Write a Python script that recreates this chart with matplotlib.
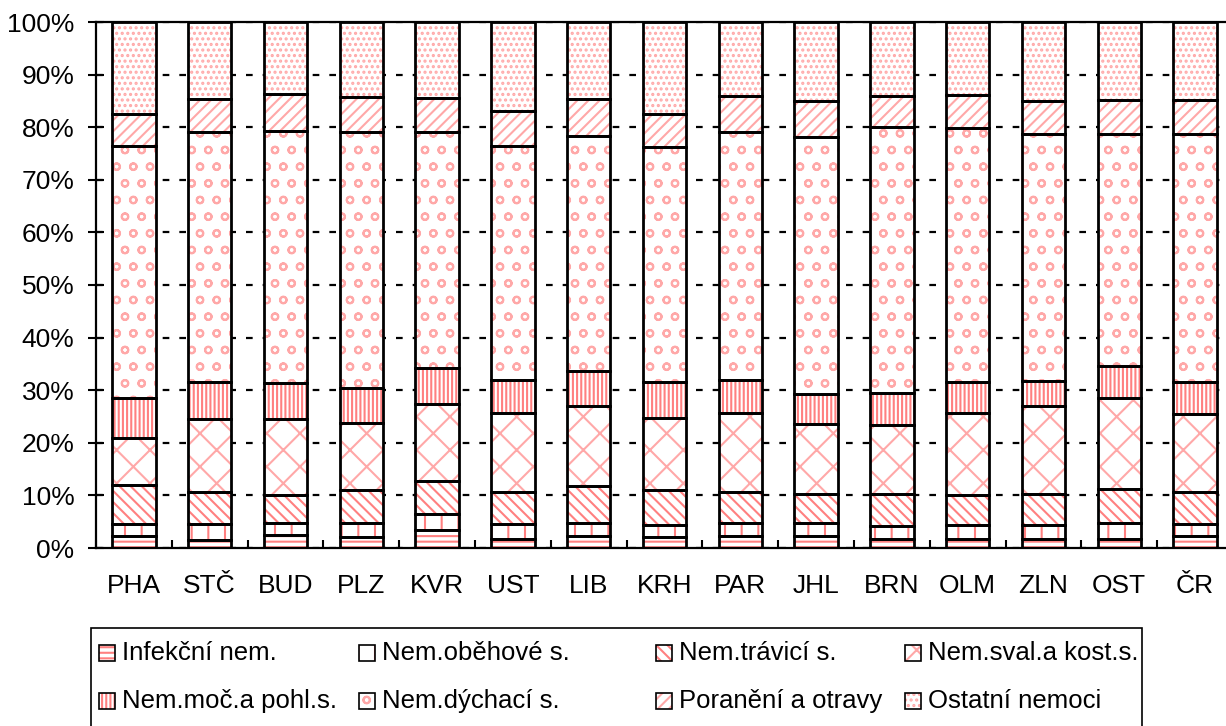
import matplotlib
matplotlib.use('Agg')
import matplotlib.pyplot as plt
from matplotlib.patches import Rectangle
import numpy as np

plt.rcParams['font.family'] = ['Liberation Sans', 'DejaVu Sans']
plt.rcParams['hatch.linewidth'] = 1.5

# data (% share of sick-leave cases by cause)
regions = ['PHA', 'STČ', 'BUD', 'PLZ', 'KVR', 'UST', 'LIB', 'KRH',
           'PAR', 'JHL', 'BRN', 'OLM', 'ZLN', 'OST', 'ČR']
series_names = ['Infekční nem.', 'Nem.oběhové s.', 'Nem.trávicí s.',
                'Nem.sval.a kost.s.', 'Nem.moč.a pohl.s.', 'Nem.dýchací s.',
                'Poranění a otravy', 'Ostatní nemoci']
infekcni = [2.3, 1.6, 2.5, 2.0, 3.4, 1.8, 2.3, 2.0, 2.3, 2.3, 1.8, 1.7, 1.8, 1.8, 2.2]
obehove = [2.3, 2.9, 2.2, 2.7, 3.1, 2.8, 2.4, 2.4, 2.4, 2.5, 2.4, 2.7, 2.6, 2.9, 2.4]
travici = [7.4, 6.2, 5.4, 6.3, 6.3, 6.1, 7.0, 6.6, 6.0, 5.5, 6.1, 5.7, 5.9, 6.6, 6.1]
sval = [8.9, 13.9, 14.4, 12.7, 14.6, 15.0, 15.3, 13.8, 15.0, 13.3, 13.1, 15.6, 16.7, 17.3, 14.8]
moc = [7.6, 6.9, 6.8, 6.8, 6.8, 6.2, 6.7, 6.7, 6.2, 5.7, 6.1, 5.8, 4.8, 6.0, 6.1]
dychaci = [48.0, 47.5, 48.0, 48.6, 44.8, 44.6, 44.6, 44.7, 47.1, 48.9, 50.5, 48.3, 47.0, 44.1, 47.1]
poraneni = [6.0, 6.4, 7.0, 6.7, 6.5, 6.6, 7.1, 6.4, 6.9, 6.8, 6.0, 6.3, 6.2, 6.5, 6.5]
ostatni = [17.5, 14.6, 13.7, 14.2, 14.5, 16.9, 14.6, 17.4, 14.1, 15.0, 14.0, 13.9, 15.0, 14.8, 14.8]

values = [infekcni, obehove, travici, sval, moc, dychaci, poraneni, ostatni]
hatches = ['---', '|', '\\\\\\', 'x', '||||', 'o', '///', '...']
PINK = '#FF8080'
LIGHT = '#FFA8A8'
hatch_colors = [PINK, PINK, PINK, LIGHT, PINK, LIGHT, LIGHT, LIGHT]

W, H = 1226, 726
fig = plt.figure(figsize=(W / 100, H / 100), dpi=100)
ax = fig.add_axes([96 / W, 1 - 548 / H, 1137 / W, 526 / H])

# 100% stacked bars
data = np.array(values, dtype=float)
data = data / data.sum(axis=0) * 100
x = np.arange(len(regions))
bottom = np.zeros(len(regions))
for vals, h, hc in zip(data, hatches, hatch_colors):
    ax.bar(x, vals, 0.575, bottom=bottom, color='white', edgecolor=hc,
           hatch=h, linewidth=0, zorder=2)
    ax.bar(x, vals, 0.575, bottom=bottom, fill=False, edgecolor='black',
           linewidth=2.0, zorder=3)
    bottom += vals

ax.set_xlim(-0.5, 14.5)
ax.set_ylim(0, 100)
ax.set_yticks(range(0, 101, 10))
ax.set_yticklabels([f'{v}%' for v in range(0, 101, 10)])
ax.set_xticks(x)
ax.set_xticklabels(regions)
ax.set_xticks(np.arange(-0.5, 15, 1), minor=True)
ax.tick_params(axis='x', which='major', length=0, pad=19, labelsize=19)
ax.tick_params(axis='x', which='minor', direction='in', length=6, width=1.5)
ax.tick_params(axis='y', direction='inout', length=11, width=1.5, labelsize=19, pad=10)
ax.yaxis.grid(True, color='black', lw=1.6, ls=(0, (3, 4.5)))
ax.set_axisbelow(True)
for s in ax.spines.values():
    s.set_linewidth(1.6)

# legend drawn by hand (Excel-like uneven columns)
fig.add_artist(Rectangle((91 / W, 1 - 740 / H), (1142 - 91) / W, (740 - 627.5) / H,
                         transform=fig.transFigure, fill=False, ec='black', lw=1.2))
col_x = [99, 359, 656, 905]
row_y = [653, 701]
for i, (name, h, hc) in enumerate(zip(series_names, hatches, hatch_colors)):
    cx = col_x[i % 4]
    cy = row_y[i // 4]
    box = (cx / W, 1 - (cy + 8) / H)
    fig.add_artist(Rectangle(box, 16 / W, 16 / H, transform=fig.transFigure,
                             facecolor='white', edgecolor=hc, hatch=h, lw=0))
    fig.add_artist(Rectangle(box, 16 / W, 16 / H, transform=fig.transFigure,
                             fill=False, edgecolor='black', lw=1.2))
    fig.text((cx + 23) / W, 1 - cy / H, name, fontsize=18.5, va='center', ha='left')

fig.savefig('out.png', dpi=100)
